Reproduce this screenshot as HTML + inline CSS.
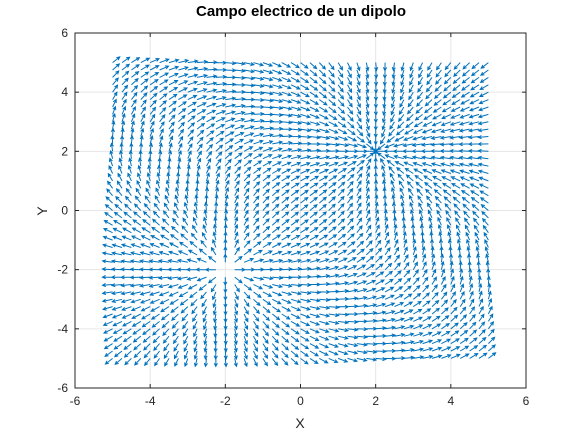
<!DOCTYPE html>
<html><head><meta charset="utf-8"><style>
body{margin:0;background:#fff}
svg{display:block;font-family:"Liberation Sans",sans-serif}
</style></head><body>
<svg id="chart" width="581" height="436"></svg>
<script>
const xTicks=[-6,-4,-2,0,2,4,6];
const yTicks=[-6,-4,-2,0,2,4,6];
const chargeX=[-2,2];
const chargeY=[-2,2];
const chargeQ=[1,-1];
const gridMin=-5, gridMax=5, gridStep=0.25;
const L=75,R=526,T=33,B=388;
const sx=v=>L+(v+6)/12*(R-L);
const sy=v=>B-(v+6)/12*(B-T);
const NS="http://www.w3.org/2000/svg";
const svg=document.getElementById('chart');
function mk(t,a,p){const e=document.createElementNS(NS,t);for(const k in a)e.setAttribute(k,a[k]);(p||svg).appendChild(e);return e;}
mk('rect',{x:0,y:0,width:581,height:436,fill:'#fff'});
const grid=mk('g',{});


xTicks.forEach(t=>{mk('line',{x1:sx(t),x2:sx(t),y1:T,y2:B,stroke:'#e6e6e6','stroke-width':1},grid);});
yTicks.forEach(t=>{mk('line',{x1:L,x2:R,y1:sy(t),y2:sy(t),stroke:'#e6e6e6','stroke-width':1},grid);});
const q=mk('g',{stroke:'#0072BD','stroke-width':1,fill:'none'});


const len=0.27;
let d='';
for(let x=gridMin;x<=gridMax+1e-9;x+=gridStep){
 for(let y=gridMin;y<=gridMax+1e-9;y+=gridStep){
  let ex=0,ey=0,bad=false;
  for(let i=0;i<chargeX.length;i++){
   const dx=x-chargeX[i],dy=y-chargeY[i];const r=Math.hypot(dx,dy);
   if(r<1e-9){bad=true;break;}
   ex+=chargeQ[i]*dx/(r*r*r);ey+=chargeQ[i]*dy/(r*r*r);
  }
  if(bad)continue;
  const m=Math.hypot(ex,ey);const ux=ex/m,uy=ey/m;
  const x0=sx(x),y0=sy(y),x1=sx(x+ux*len),y1=sy(y+uy*len);
  const vx=x1-x0,vy=y1-y0,vl=Math.hypot(vx,vy);
  const hx=vx/vl,hy=vy/vl,h=3.2,w=1.6;
  d+=`M${x0.toFixed(1)} ${y0.toFixed(1)}L${x1.toFixed(1)} ${y1.toFixed(1)}`;
  d+=`M${(x1-hx*h-hy*w).toFixed(1)} ${(y1-hy*h+hx*w).toFixed(1)}L${x1.toFixed(1)} ${y1.toFixed(1)}L${(x1-hx*h+hy*w).toFixed(1)} ${(y1-hy*h-hx*w).toFixed(1)}`;
 }
}
mk('path',{d:d},q);
const ax=mk('g',{});


mk('rect',{x:L,y:T,width:R-L,height:B-T,fill:'none',stroke:'#262626','stroke-width':1},ax);
xTicks.forEach(t=>{
 mk('line',{x1:sx(t),x2:sx(t),y1:B,y2:B-4,stroke:'#262626'},ax);
 mk('line',{x1:sx(t),x2:sx(t),y1:T,y2:T+4,stroke:'#262626'},ax);
 const tx=mk('text',{x:sx(t),y:B+17,'text-anchor':'middle','font-size':12,fill:'#262626'},ax);tx.textContent=t;
 
 
});
yTicks.forEach(t=>{
 mk('line',{x1:L,x2:L+4,y1:sy(t),y2:sy(t),stroke:'#262626'},ax);
 mk('line',{x1:R,x2:R-4,y1:sy(t),y2:sy(t),stroke:'#262626'},ax);
 const tx=mk('text',{x:L-7,y:sy(t)+4,'text-anchor':'end','font-size':12,fill:'#262626'},ax);tx.textContent=t;
 
 
});
</script>
<svg width="581" height="436" style="position:absolute;left:0;top:0">
<text x="301" y="16" text-anchor="middle" font-size="15" font-weight="bold" fill="#000">Campo electrico de un dipolo</text>
<text x="300" y="428" text-anchor="middle" font-size="14" fill="#262626">X</text>
<text x="47" y="211" text-anchor="middle" font-size="14" fill="#262626" transform="rotate(-90 47 211)">Y</text>
</svg>
</body></html>
